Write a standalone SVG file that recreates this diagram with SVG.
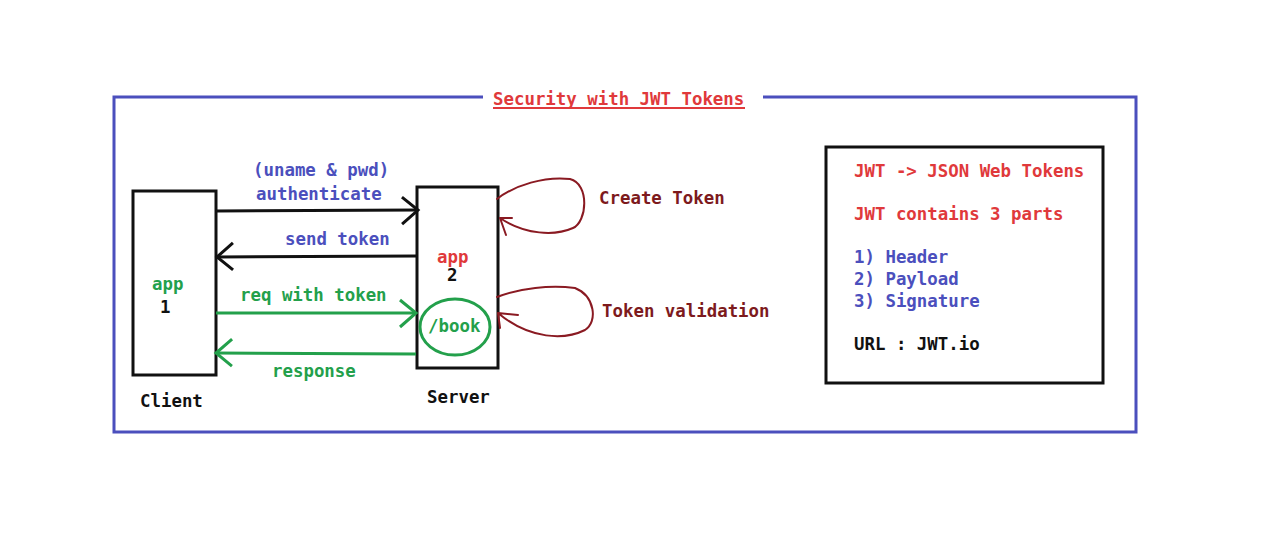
<svg xmlns="http://www.w3.org/2000/svg" width="1272" height="544" viewBox="0 0 1272 544">
<defs>
<style>
text{font-family:"DejaVu Sans Mono","Liberation Mono",monospace;font-weight:bold;font-size:17.4px}
.blue{fill:#4b4fbd}
.red{fill:#e0393b}
.green{fill:#23a04b}
.dred{fill:#7d1a1d}
.blk{fill:#111}
.box{fill:#fff;stroke:#111;stroke-width:3}
.ln{fill:none;stroke:#111;stroke-width:3}
.gln{fill:none;stroke:#23a04b;stroke-width:3}
.loop{fill:none;stroke:#8a1a22;stroke-width:2;stroke-linecap:round;stroke-linejoin:round}
</style>
<marker id="hb" markerUnits="userSpaceOnUse" markerWidth="24" markerHeight="34" refX="19" refY="16" orient="auto" viewBox="0 0 24 34">
<path d="M3,3 L19,16 L3,30" fill="none" stroke="#111" stroke-width="3"/>
</marker>
<marker id="hg" markerUnits="userSpaceOnUse" markerWidth="24" markerHeight="34" refX="19" refY="16" orient="auto" viewBox="0 0 24 34">
<path d="M3,3 L19,16 L3,30" fill="none" stroke="#23a04b" stroke-width="3"/>
</marker>
</defs>
<rect width="1272" height="544" fill="#fff"/>
<g id="frame">
<path d="M483,97 L114,97 L114,432 L1136,432 L1136,97 L763,97" fill="none" stroke="#4b4fbd" stroke-width="3"/>
<text x="493" y="105" class="red">Security with JWT Tokens</text>
<line x1="493" y1="108" x2="745" y2="108" stroke="#e0393b" stroke-width="2"/>
</g>
<g id="client">
<rect x="133" y="191" width="83" height="184" class="box"/>
<text x="152" y="290" class="green">app</text>
<text x="160" y="313" class="blk">1</text>
<text x="140" y="407" class="blk">Client</text>
</g>
<g id="server">
<rect x="417" y="187" width="81" height="181" class="box"/>
<text x="437" y="263" class="red">app</text>
<text x="447" y="281" class="blk">2</text>
<text x="427" y="403" class="blk">Server</text>
</g>
<g id="book">
<ellipse cx="455" cy="327" rx="35" ry="28" fill="none" stroke="#23a04b" stroke-width="3"/>
<text x="428" y="332" class="green">/book</text>
</g>
<g id="jwt-info">
<rect x="826" y="147" width="277" height="236" class="box"/>
<text x="854" y="177" class="red">JWT -&gt; JSON Web Tokens</text>
<text x="854" y="220" class="red">JWT contains 3 parts</text>
<text x="854" y="263" class="blue">1) Header</text>
<text x="854" y="285" class="blue">2) Payload</text>
<text x="854" y="307" class="blue">3) Signature</text>
<text x="854" y="350" class="blk">URL : JWT.io</text>
</g>
<g id="connectors">
<line x1="216" y1="211" x2="418" y2="210" class="ln" marker-end="url(#hb)"/>
<line x1="417" y1="256" x2="217" y2="257" class="ln" marker-end="url(#hb)"/>
<line x1="216" y1="313" x2="416" y2="313" class="gln" marker-end="url(#hg)"/>
<line x1="416" y1="354" x2="216" y2="353" class="gln" marker-end="url(#hg)"/>
<text x="253" y="176" class="blue">(uname &amp; pwd)</text>
<text x="256" y="200" class="blue">authenticate</text>
<text x="285" y="245" class="blue">send token</text>
<text x="240" y="301" class="green">req with token</text>
<text x="272" y="377" class="green">response</text>
<path d="M497,199 C515,185 545,176 570,179 C590,184 587,222 573,228 C555,236 525,235 500,218 M500,218 L512,218 M500,218 L506,235" class="loop"/>
<path d="M497,297 C520,288 550,285 575,288 C595,296 598,322 585,330 C565,340 530,340 498,313 M498,313 L518,315 M498,313 L500,328" class="loop"/>
<text x="599" y="204" class="dred">Create Token</text>
<text x="602" y="317" class="dred">Token validation</text>
</g>
</svg>
